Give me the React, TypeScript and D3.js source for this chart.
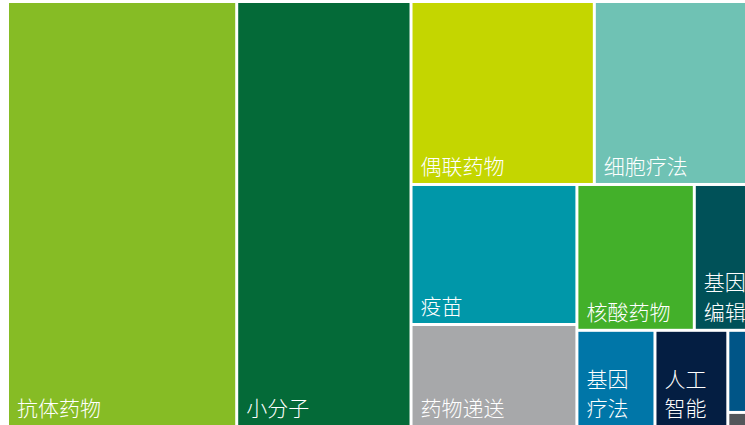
import React, { useMemo } from 'react';
import * as d3 from 'd3';

// Categories, values and colours
const categories = ['抗体药物', '小分子', '偶联药物', '细胞疗法', '疫苗', '药物递送', '核酸药物', '基因编辑', '基因疗法', '人工智能', '合成生物学', '其他'];
const values = [97.3, 74.0, 33.5, 32.2, 23.2, 16.9, 17.1, 11.1, 7.5, 7.0, 3.5, 0.6];
const colors = ['#86BC25', '#046A38', '#C4D600', '#6FC2B4', '#0097A9', '#A7A8AA', '#43B02A', '#005158', '#0076A8', '#041E42', '#005587', '#53565A'];
// Nesting of category indices (groups alternate horizontal / vertical splits)
const groups: any[] = [0, 1, [[2, 3], [[4, 5], [[6, 7], [8, 9, [10, 11]]]]]];

const WIDTH = 745;
const HEIGHT = 425;
const FONT_SIZE = 21;
const LINE_HEIGHT = 29.5;

type Node = { name: string; idx?: number; value?: number; children?: Node[] };

function build(g: any, key: string): Node {
  if (Array.isArray(g)) {
    return { name: key, children: g.map((c, i) => build(c, key + '-' + i)) };
  }
  return { name: categories[g], idx: g, value: values[g] };
}

export default function App() {
  const leaves = useMemo(() => {
    const root = d3.hierarchy<Node>(build(groups, 'root')).sum((d) => d.value ?? 0);
    d3.treemap<Node>()
      .tile(d3.treemapSliceDice)
      .size([760, 422])
      .paddingInner(3)
      .round(false)(root);
    return root.leaves() as d3.HierarchyRectangularNode<Node>[];
  }, []);

  return (
    <svg
      width={WIDTH}
      height={HEIGHT}
      style={{ position: 'absolute', left: 0, top: 0, background: '#ffffff', overflow: 'hidden' }}
    >
      <g transform="translate(9,3)">
        {leaves.map((leaf) => {
          const i = leaf.data.idx as number;
          const w = leaf.x1 - leaf.x0;
          const h = leaf.y1 - leaf.y0;
          const label = categories[i];
          const per = Math.floor((w - 16) / FONT_SIZE);
          let lines: string[] = [];
          if (per >= label.length) lines = [label];
          else if (per >= 2) {
            for (let k = 0; k < label.length; k += per) lines.push(label.slice(k, k + per));
          }
          if (lines.length * LINE_HEIGHT + 10 > h) lines = [];
          return (
            <g key={i}>
              <rect x={leaf.x0} y={leaf.y0} width={w} height={h} fill={colors[i]} />
              {lines.map((ln, k) => (
                <text
                  key={k}
                  x={leaf.x0 + 8}
                  y={leaf.y1 - 9 - (lines.length - 1 - k) * LINE_HEIGHT}
                  fill="#ffffff"
                  fontSize={FONT_SIZE}
                  fontWeight={300}
                  fontFamily="'Noto Sans CJK SC', 'Noto Sans', sans-serif"
                >
                  {ln}
                </text>
              ))}
            </g>
          );
        })}
      </g>
    </svg>
  );
}
